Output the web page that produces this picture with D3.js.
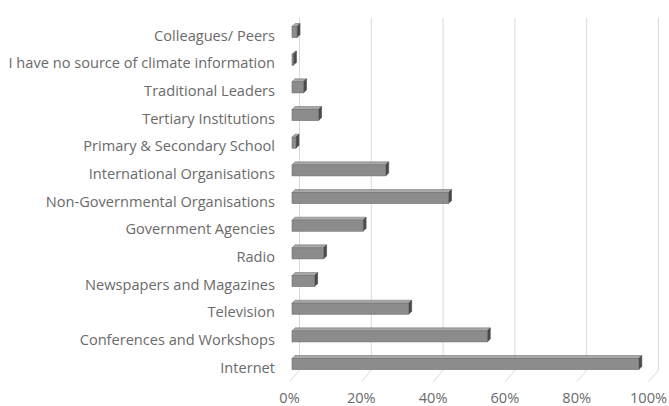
<!DOCTYPE html>
<html>
<head>
<meta charset="utf-8">
<script src="https://d3js.org/d3.v7.min.js"></script>
<style>
  body { margin: 0; background: #fff; }
  svg { display: block; }
  .lbl { font-family: "Open Sans", sans-serif; font-size: 14.6px; fill: #6a6a6a; }
</style>
</head>
<body>
<script>
  var categories = [
    "Colleagues/ Peers",
    "I have no source of climate information",
    "Traditional Leaders",
    "Tertiary Institutions",
    "Primary & Secondary School",
    "International Organisations",
    "Non-Governmental Organisations",
    "Government Agencies",
    "Radio",
    "Newspapers and Magazines",
    "Television",
    "Conferences and Workshops",
    "Internet"
  ];
  var values = [0.014, 0.004, 0.032, 0.074, 0.011, 0.261, 0.436, 0.198, 0.088, 0.063, 0.325, 0.544, 0.966];
  var tickValues = [0, 0.2, 0.4, 0.6, 0.8, 1];

  var width = 669, height = 406;
  var svg = d3.select("body").append("svg")
    .attr("width", width)
    .attr("height", height);

  // back wall scale, front plane sits 10px left / 12px down
  var x = d3.scaleLinear().domain([0, 1]).range([299.5, 658.5]);
  var y = d3.scaleBand().domain(categories).range([18.2, 377.9])
    .paddingInner(0.6).paddingOuter(0.3);
  var wallTop = 18, wallBottom = 370;
  var fdx = -10, fdy = 12;
  var barDx = -7.5, depth = 3;

  // gridlines on back wall + floor slants
  svg.selectAll(".grid").data(tickValues).enter().append("path")
    .attr("d", function(t) {
      return "M" + x(t) + "," + wallTop + "V" + wallBottom + "l" + fdx + "," + fdy;
    })
    .attr("fill", "none")
    .attr("stroke", "#d9d9d9")
    .attr("stroke-width", 1);

  var bars = svg.selectAll(".bar").data(categories).enter().append("g");

  function x0() { return x(0) + barDx; }
  function x1(i) { return x(values[i]) + barDx; }

  // top face
  bars.append("path")
    .attr("d", function(d, i) {
      var yt = y(d);
      return "M" + x0() + "," + yt + "L" + (x0() + depth) + "," + (yt - depth) +
        "L" + (x1(i) + depth) + "," + (yt - depth) + "L" + x1(i) + "," + yt + "Z";
    })
    .attr("fill", "#a8a8a8")
    .attr("stroke", "#7a7a7a")
    .attr("stroke-width", 0.6);

  // side face
  bars.append("path")
    .attr("d", function(d, i) {
      var yt = y(d), yb = y(d) + y.bandwidth();
      return "M" + x1(i) + "," + yt + "L" + (x1(i) + depth) + "," + (yt - depth) +
        "L" + (x1(i) + depth) + "," + (yb - depth) + "L" + x1(i) + "," + yb + "Z";
    })
    .attr("fill", "#4a4a4a")
    .attr("stroke", "#4a4a4a")
    .attr("stroke-width", 0.6);

  // front face
  bars.append("rect")
    .attr("x", x0())
    .attr("y", function(d) { return y(d); })
    .attr("width", function(d, i) { return Math.max(0.5, x1(i) - x0()); })
    .attr("height", y.bandwidth())
    .attr("fill", "#8c8c8c")
    .attr("stroke", "#6f6f6f")
    .attr("stroke-width", 0.6);

  // category labels
  svg.selectAll(".cat").data(categories).enter().append("text")
    .attr("class", "lbl")
    .attr("x", 275)
    .attr("y", function(d) { return y(d) + y.bandwidth() / 2 + 8.5; })
    .attr("text-anchor", "end")
    .text(function(d) { return d; });

  // value axis labels
  svg.selectAll(".tick").data(tickValues).enter().append("text")
    .attr("class", "lbl")
    .attr("x", function(t) { return x(t) + fdx; })
    .attr("y", 403)
    .attr("text-anchor", "middle")
    .text(function(t) { return d3.format(".0%")(t); });
</script>
</body>
</html>
